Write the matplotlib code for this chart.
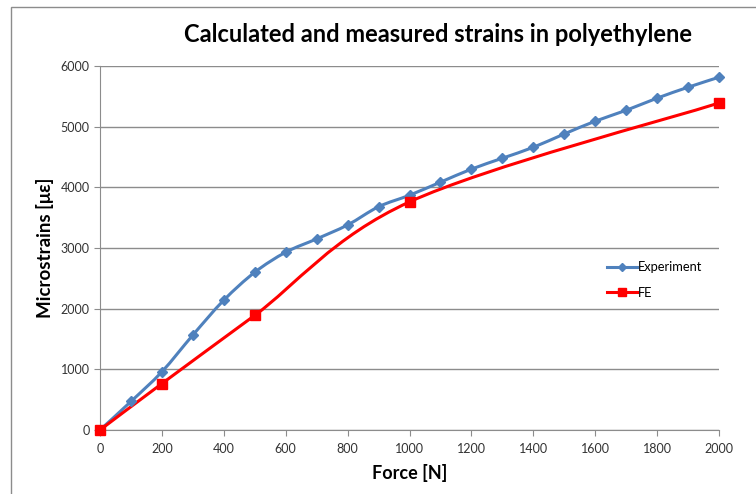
import numpy as np
import matplotlib.pyplot as plt
from matplotlib.path import Path
from matplotlib.patches import PathPatch, Rectangle
from matplotlib.lines import Line2D

plt.rcParams['font.family'] = ['Lato', 'DejaVu Sans']

force_exp = [0, 100, 200, 300, 400, 500, 600, 700, 800, 900, 1000,
             1100, 1200, 1300, 1400, 1500, 1600, 1700, 1800, 1900, 2000]
strain_exp = [0, 470, 960, 1565, 2140, 2600, 2930, 3150, 3380, 3680, 3870,
              4085, 4300, 4480, 4660, 4880, 5090, 5270, 5470, 5650, 5815]
force_fe = [0, 200, 500, 1000, 2000]
strain_fe = [0, 765, 1890, 3760, 5390]

blue = '#4F81BD'
red = '#FF0000'


def smooth_path(x, y):
    # excel-style smoothed line: cubic bezier segments through the points
    p = np.column_stack([x, y]).astype(float)
    verts = [p[0]]
    codes = [Path.MOVETO]
    n = len(p)
    for i in range(n - 1):
        p0 = p[i - 1] if i > 0 else p[i]
        p3 = p[i + 2] if i + 2 < n else p[i + 1]
        c1 = p[i] + (p[i + 1] - p0) / 6
        c2 = p[i + 1] - (p3 - p[i]) / 6
        verts += [c1, c2, p[i + 1]]
        codes += [Path.CURVE4] * 3
    return Path(verts, codes)


fig = plt.figure(figsize=(7.56, 4.94), dpi=100)
ax = fig.add_axes([100 / 756, 64 / 494, 619 / 756, 364 / 494])

ax.add_patch(PathPatch(smooth_path(force_exp, strain_exp), fill=False,
                       edgecolor=blue, lw=2.2, zorder=3))
ax.add_patch(PathPatch(smooth_path(force_fe, strain_fe), fill=False,
                       edgecolor=red, lw=2.2, zorder=3))
ax.plot(force_exp, strain_exp, ls='none', marker='D', ms=5.5, color=blue,
        zorder=4, clip_on=False)
ax.plot(force_fe, strain_fe, ls='none', marker='s', ms=7, color=red,
        zorder=4, clip_on=False)

ax.set_xlim(0, 2000)
ax.set_ylim(0, 6000)
ax.set_xticks(range(0, 2001, 200))
ax.set_yticks(range(0, 6001, 1000))
ax.grid(axis='y', color='#8C8C8C', lw=1)
ax.set_axisbelow(True)
for s in ['top', 'right']:
    ax.spines[s].set_visible(False)
for s in ['left', 'bottom']:
    ax.spines[s].set_color('#8C8C8C')
ax.tick_params(colors='#8C8C8C', labelcolor='#333333', labelsize=9, length=4)
ax.tick_params(axis='x', pad=5)

ax.set_xlabel('Force [N]', fontsize=13, fontweight='bold', labelpad=7)
ax.set_ylabel('Microstrains [\u03bc\u03b5]', fontsize=13.5, fontweight='bold', labelpad=5)
fig.text(438 / 756, 1 - 35 / 494, 'Calculated and measured strains in polyethylene',
         fontsize=17, fontweight='bold', ha='center', va='center')

handles = [Line2D([], [], color=blue, lw=2.2, marker='D', ms=4.5),
           Line2D([], [], color=red, lw=2.2, marker='s', ms=6)]
ax.legend(handles, ['Experiment', 'FE'], loc='upper left',
          bbox_to_anchor=(0.80, 0.495), frameon=False, fontsize=9.3,
          handlelength=2.3, handletextpad=0.1, labelspacing=1.05)

fig.add_artist(Rectangle((11 / 756, -0.1), 1.2, 1 - 7 / 494 + 0.1,
                         transform=fig.transFigure, fill=False,
                         edgecolor='#8C8C8C', lw=1))

fig.savefig('out.png', dpi=100)
